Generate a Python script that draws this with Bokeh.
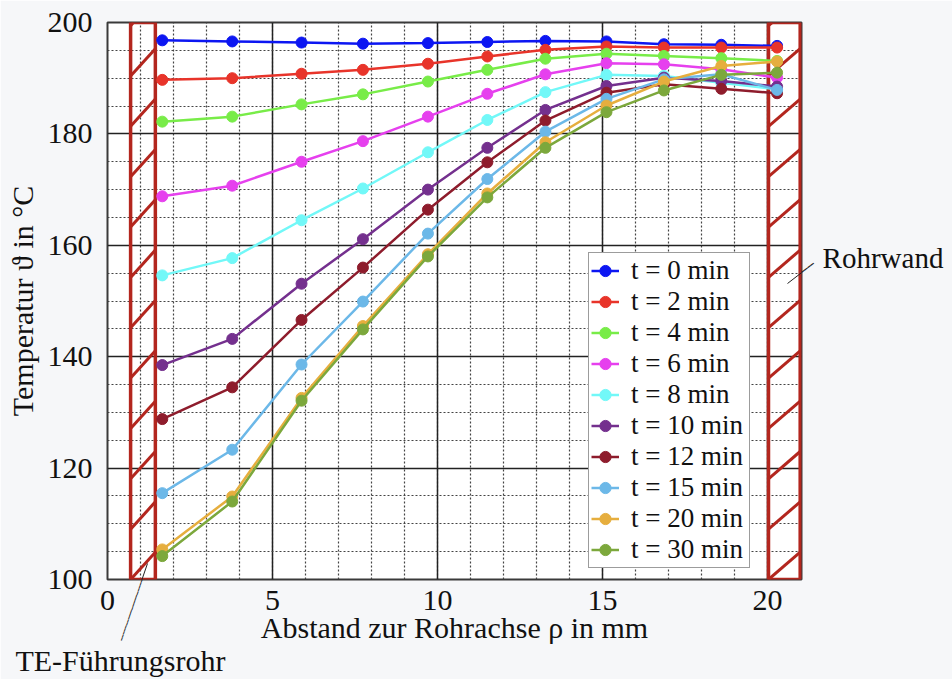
import math
import numpy as np
from bokeh.plotting import figure
from bokeh.models import FixedTicker, Legend, LegendItem, Label, ColumnDataSource
from bokeh.embed import file_html
from bokeh.resources import INLINE

# ---------------- data ----------------
rho = [1.66, 3.78, 5.88, 7.74, 9.71, 11.51, 13.27, 15.12, 16.86, 18.6, 20.29]

t_0 = [196.8, 196.6, 196.4, 196.2, 196.3, 196.5, 196.7, 196.6, 196.1, 196.0, 195.8]
t_2 = [189.7, 190.0, 190.8, 191.5, 192.6, 193.9, 195.1, 195.7, 195.5, 195.5, 195.5]
t_4 = [182.2, 183.1, 185.3, 187.1, 189.4, 191.5, 193.5, 194.4, 194.0, 193.6, 193.1]
t_6 = [168.8, 170.7, 175.0, 178.7, 183.1, 187.2, 190.7, 192.7, 192.5, 191.6, 190.1]
t_8 = [154.6, 157.7, 164.5, 170.2, 176.7, 182.5, 187.5, 190.6, 190.4, 189.2, 188.0]
t_10 = [138.5, 143.2, 153.1, 161.1, 170.0, 177.5, 184.3, 188.6, 190.1, 189.5, 188.5]
t_12 = [128.8, 134.5, 146.6, 156.0, 166.4, 174.9, 182.4, 187.4, 188.9, 188.1, 187.3]
t_15 = [115.5, 123.3, 138.6, 149.9, 162.1, 171.9, 180.4, 186.3, 189.8, 190.7, 187.9]
t_20 = [105.4, 114.9, 132.6, 145.5, 158.4, 169.3, 178.5, 185.1, 189.4, 192.2, 193.0]
t_30 = [104.2, 114.0, 132.1, 144.9, 158.0, 168.6, 177.5, 183.9, 187.8, 190.6, 191.0]

series = [t_0, t_2, t_4, t_6, t_8, t_10, t_12, t_15, t_20, t_30]
labels = ["t = 0 min", "t = 2 min", "t = 4 min", "t = 6 min", "t = 8 min",
          "t = 10 min", "t = 12 min", "t = 15 min", "t = 20 min", "t = 30 min"]
colors = ["#0c16f2", "#e8342a", "#78ec48", "#e640ee", "#72f8f8",
          "#74308e", "#8e1c2c", "#6cb8e8", "#e6ae3e", "#7ca83c"]

x_ticks = [0, 5, 10, 15, 20]
x_minor = list(range(0, 22))
y_ticks = [100, 120, 140, 160, 180, 200]
y_minor = list(range(100, 201, 5))

te_tube = [0.7, 1.45]     # TE-Führungsrohr (mm)
wall = [20.03, 20.99]     # Rohrwand (mm)

# leader lines (data coordinates: start, end)
te_leader = [(0.409, 89.05), (1.212, 102.87)]
wall_leader = [(20.606, 153.14), (21.403, 156.79)]

FONT = "Liberation Serif"
RED = "#b3261e"

# ---------------- figure ----------------
p = figure(width=952, height=679, x_range=(0, 21.03), y_range=(100, 200),
           output_backend="svg", toolbar_location=None,
           min_border_left=107, min_border_right=151,
           min_border_top=22, min_border_bottom=100)

p.background_fill_color = "#ffffff"
p.border_fill_color = "#f6f7f9"
p.outline_line_color = "#3a3a3a"
p.outline_line_width = 2

p.xaxis.ticker = FixedTicker(ticks=x_ticks, minor_ticks=x_minor)
p.yaxis.ticker = FixedTicker(ticks=y_ticks, minor_ticks=y_minor)

for ax in (p.xaxis, p.yaxis):
    ax.axis_line_color = None
    ax.major_tick_line_color = None
    ax.minor_tick_line_color = None
    ax.major_label_text_font = FONT
    ax.major_label_text_font_size = "30px"
    ax.major_label_text_color = "#111111"
    ax.axis_label_text_font = FONT
    ax.axis_label_text_font_size = "30px"
    ax.axis_label_text_font_style = "normal"
    ax.axis_label_text_color = "#111111"

p.xaxis.axis_label = "Abstand zur Rohrachse ρ in mm"
p.yaxis.axis_label = "Temperatur ϑ in °C"
p.xaxis.major_label_standoff = 5
p.xaxis.axis_label_standoff = -2
p.yaxis.major_label_standoff = 9
p.yaxis.axis_label_standoff = 6

p.grid.grid_line_color = "#222222"
p.grid.grid_line_width = 1.5
p.grid.grid_line_alpha = 1.0
p.grid.minor_grid_line_color = "#444444"
p.grid.minor_grid_line_width = 1.2
p.grid.minor_grid_line_dash = "2 2"

# ---------------- hatched boxes ----------------
hatch_step = 9.04
hatch_rise = 4.9
for (x0, x1) in (te_tube, wall):
    ys = np.arange(100, 200, hatch_step)
    ye = np.minimum(ys + hatch_rise, 200)
    xe = x0 + (x1 - x0) * (ye - ys) / hatch_rise
    p.segment(x0=[x0] * len(ys), y0=ys, x1=xe, y1=ye,
              line_color=RED, line_width=3)
    p.quad(left=[x0], right=[x1], bottom=[100], top=[200],
           fill_color=None, line_color=RED, line_width=3.5)

# leader lines, inside part (clipped to the frame)
for (a, b) in (te_leader, wall_leader):
    p.segment(x0=[a[0]], y0=[a[1]], x1=[b[0]], y1=[b[1]],
              line_color="#222222", line_width=1)

# ---------------- data ----------------
items = []
for vals, lab, col in zip(series, labels, colors):
    src = ColumnDataSource(dict(x=rho, y=vals))
    lr = p.line("x", "y", source=src, line_color=col, line_width=2.5)
    sr = p.scatter("x", "y", source=src, size=11, fill_color=col,
                   line_color=col, marker="circle")
    items.append(LegendItem(label=lab, renderers=[lr, sr]))

legend = Legend(items=items, location=(481, 11))
legend.label_text_font = FONT
legend.label_text_font_size = "27px"
legend.label_text_color = "#111111"
legend.label_height = 29
legend.label_width = 116
legend.glyph_height = 29
legend.glyph_width = 28
legend.label_standoff = 12
legend.spacing = 0
legend.padding = 2
legend.margin = 0
legend.border_line_color = "#3a3a3a"
legend.border_line_width = 1.5
legend.background_fill_color = "#ffffff"
legend.background_fill_alpha = 1.0
p.add_layout(legend, "center")

# ---------------- annotations (outside the frame) ----------------
p.add_layout(Label(x=21.67, y=157.8, text="Rohrwand", text_font=FONT,
                   text_font_size="29px", text_color="#111111",
                   text_baseline="alphabetic", text_align="left"), "right")
p.add_layout(Label(x=-2.79, y=85.45, text="TE-Führungsrohr", text_font=FONT,
                   text_font_size="30px", text_color="#111111",
                   text_baseline="alphabetic", text_align="left"), "below")


def leader_piece(xm, ym, length_px, angle_deg, n):
    # outside part of a leader line: a row of box-drawing strokes, rotated
    fs = length_px / (0.602 * n)
    return Label(x=xm, y=ym, text="\u2501" * n, text_font="DejaVu Sans Mono",
                 text_font_size=f"{fs:.2f}px", text_color="#222222",
                 text_align="center", text_baseline="middle",
                 angle=math.radians(angle_deg))


p.add_layout(leader_piece(0.727, 94.52, 64.5, 71.0, 20), "right")
p.add_layout(leader_piece(21.217, 155.93, 15.5, 37.7, 4), "above")

open("out.html", "w").write(file_html(p, INLINE))
